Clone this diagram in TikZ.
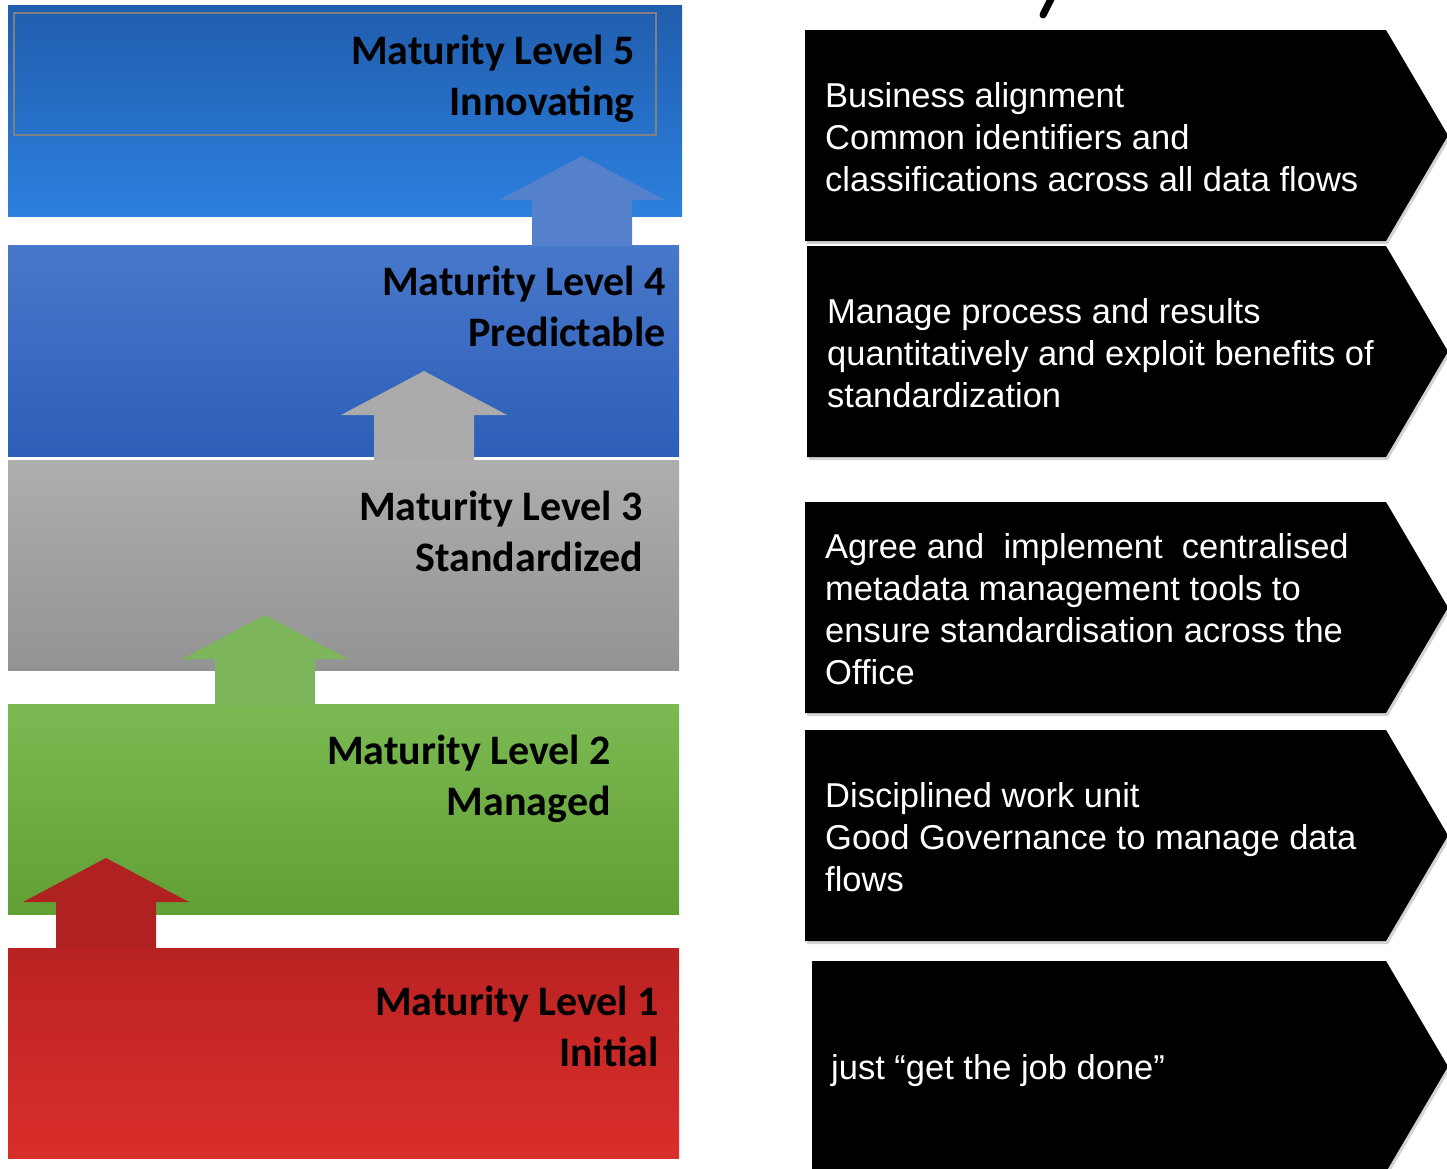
\documentclass[tikz,border=0pt]{standalone}
\usepackage{fontspec}
\setmainfont{Liberation Sans}
\newfontfamily\lblfont{Carlito}
\usepackage{tikz}
\usetikzlibrary{shadows}

\definecolor{lvlfivetop}{HTML}{205DAD}
\definecolor{lvlfivebot}{HTML}{2C80DE}
\definecolor{lvlfourtop}{HTML}{4878CA}
\definecolor{lvlfourbot}{HTML}{2D5FB8}
\definecolor{lvlthreetop}{HTML}{AEAEAE}
\definecolor{lvlthreebot}{HTML}{939393}
\definecolor{lvltwotop}{HTML}{7BB952}
\definecolor{lvltwobot}{HTML}{62A036}
\definecolor{lvlonetop}{HTML}{B92323}
\definecolor{lvlonebot}{HTML}{DA2E2A}
\definecolor{arrred}{HTML}{B02222}
\definecolor{arrgreen}{HTML}{7DB65A}
\definecolor{arrgray}{HTML}{ABABAB}
\definecolor{arrblue}{HTML}{5480CC}

\begin{document}
\begin{tikzpicture}[
    x=1pt, y=-1pt,
    lvltext/.style={font=\lblfont\bfseries\fontsize{42}{51}\selectfont, anchor=north east, align=right, inner sep=0pt}, % level titles
    desctext/.style={font=\fontsize{34.5}{42}\selectfont, text=white, anchor=north west, align=left, inner sep=0pt}, % chevron texts
    chevron/.style={fill=black, drop shadow={shadow xshift=2pt, shadow yshift=-3pt, opacity=.35}}, % black arrows on the right
    uparrow/.style={draw=none} % arrows between levels
]
    \useasboundingbox (0,0) rectangle (1447,1168);

    % 1. level boxes
    \foreach \yt/\yb/\xr/\ctop/\cbot in {5/216/682/lvlfivetop/lvlfivebot,
        245/456/679/lvlfourtop/lvlfourbot, 460/670/679/lvlthreetop/lvlthreebot,
        704/914/679/lvltwotop/lvltwobot, 948/1158/679/lvlonetop/lvlonebot} {
        \shade[top color=\ctop, bottom color=\cbot] (8,\yt) rectangle (\xr,\yb);
    }
    \draw[gray, line width=1.5pt] (14,13) rectangle (656,135);

    % 2. arrows going up
    \foreach \cx/\ty/\col in {106/858/arrred, 265/615/arrgreen, 424/371/arrgray, 582/156/arrblue} {
        \fill[uparrow, \col] (\cx,\ty) -- (\cx+83,\ty+44) -- (\cx+50,\ty+44) -- (\cx+50,\ty+90)
            -- (\cx-50,\ty+90) -- (\cx-50,\ty+44) -- (\cx-83,\ty+44) -- cycle;
    }

    % 3. level titles
    \node[lvltext] (lvl5) at (635,35) {Maturity Level 5\\Innovating};
    \node[lvltext] (lvl4) at (666,266) {Maturity Level 4\\Predictable};
    \node[lvltext] (lvl3) at (643,491) {Maturity Level 3\\Standardized};
    \node[lvltext] (lvl2) at (611,735) {Maturity Level 2\\Managed};
    \node[lvltext] (lvl1) at (659,986) {Maturity Level 1\\Initial};

    % 4. chevrons on the right
    \foreach \lx/\ty in {805/30, 807/246, 805/502, 805/730, 812/961} {
        \fill[chevron] (\lx,\ty) -- (1386,\ty) -- (1448,\ty+105.5) -- (1386,\ty+211) -- (\lx,\ty+211) -- cycle;
    }
    \node[desctext] (desc5) at (825,82) {Business alignment\\Common identifiers and\\classifications across all data flows};
    \node[desctext] (desc4) at (827,298) {Manage process and results\\quantitatively and exploit benefits of\\standardization};
    \node[desctext] (desc3) at (825,533) {Agree and~ implement~ centralised\\metadata management tools to\\ensure standardisation across the\\Office};
    \node[desctext] (desc2) at (825,782) {Disciplined work unit\\Good Governance to manage data\\flows};
    \node[desctext] (desc1) at (831,1054) {just “get the job done”};

    % 5. stroke cut at the top edge
    \draw[line width=7pt, line cap=round] (1052,-3) -- (1043,15);
\end{tikzpicture}
\end{document}
